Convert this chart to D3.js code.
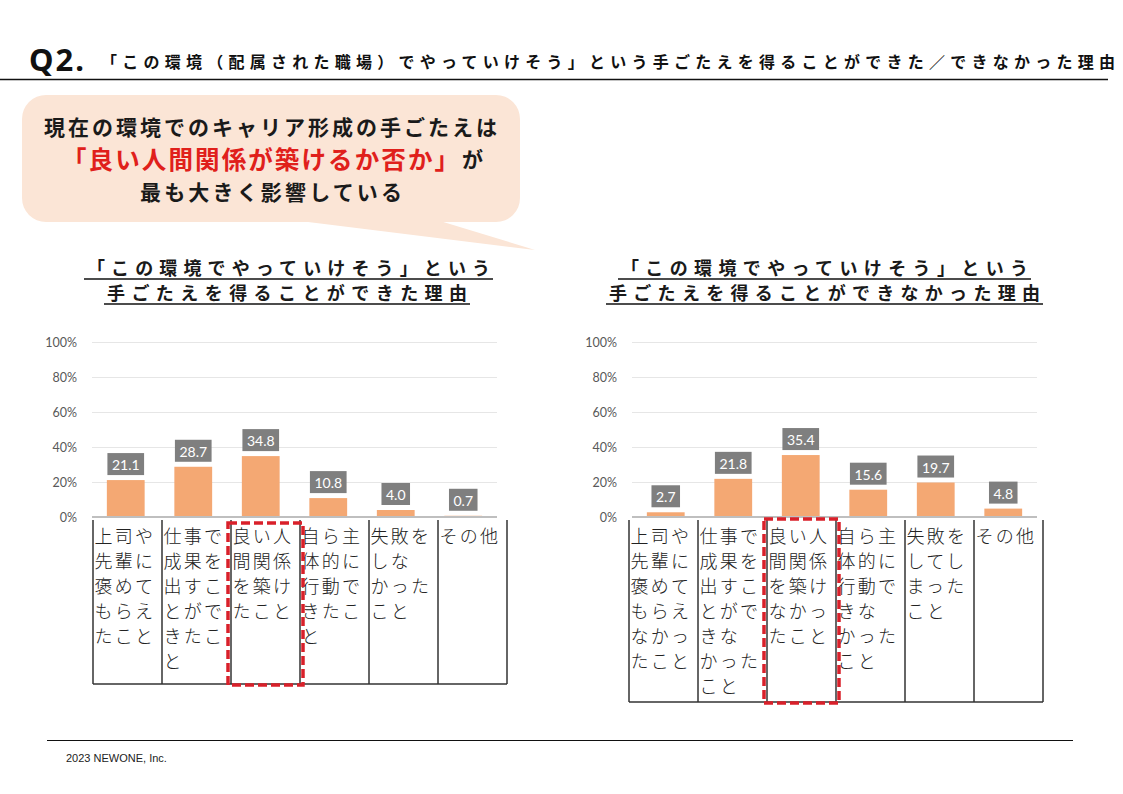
<!DOCTYPE html>
<html><head><meta charset="utf-8">
<script src="https://cdn.jsdelivr.net/npm/d3@7"></script>
<style>
body{margin:0;background:#fff;}
svg{display:block;}
</style></head>
<body>
<svg id="c" width="1123" height="794"></svg>
<script>
// ---- data ----
const mainTitle = "「この環境（配属された職場）でやっていけそう」という手ごたえを得ることができた／できなかった理由";
const calloutLine1 = "現在の環境でのキャリア形成の手ごたえは";
const calloutRed = "「良い人間関係が築けるか否か」";
const calloutRedTail = "が";
const calloutLine3 = "最も大きく影響している";
const leftTitle = ["「この環境でやっていけそう」という", "手ごたえを得ることができた理由"];
const rightTitle = ["「この環境でやっていけそう」という", "手ごたえを得ることができなかった理由"];
// category labels, with the line breaks shown in the reference table
const leftCategories = [
  ["上司や","先輩に","褒めて","もらえ","たこと"],
  ["仕事で","成果を","出すこ","とがで","きたこ","と"],
  ["良い人","間関係","を築け","たこと"],
  ["自ら主","体的に","行動で","きたこ","と"],
  ["失敗を","しな","かった","こと"],
  ["その他"]
];
const leftValues = [21.1, 28.7, 34.8, 10.8, 4.0, 0.7];
const rightCategories = [
  ["上司や","先輩に","褒めて","もらえ","なかっ","たこと"],
  ["仕事で","成果を","出すこ","とがで","きな","かった","こと"],
  ["良い人","間関係","を築け","なかっ","たこと"],
  ["自ら主","体的に","行動で","きな","かった","こと"],
  ["失敗を","してし","まった","こと"],
  ["その他"]
];
const rightValues = [2.7, 21.8, 35.4, 15.6, 19.7, 4.8];
const yTicks = [0, 20, 40, 60, 80, 100];
const highlightIndex = 2;
const footerText = "2023 NEWONE, Inc.";

const svg = d3.select("#c");
const JP = "'Noto Sans CJK JP','Noto Sans',sans-serif";

// ---- header ----
svg.append("text").attr("x", 29).attr("y", 71).attr("font-family", "'Noto Sans','Open Sans',sans-serif")
  .attr("font-weight", 700).attr("font-size", 31).attr("letter-spacing", 2).attr("fill", "#111").text("Q2.");
svg.append("text").attr("x", 101).attr("y", 68).attr("font-family", JP).attr("font-weight", 700)
  .attr("font-size", 16).attr("fill", "#111").attr("textLength", 1014).attr("lengthAdjust", "spacing").text(mainTitle);
svg.append("line").attr("x1", 0).attr("x2", 1108).attr("y1", 79.5).attr("y2", 79.5).attr("stroke", "#111").attr("stroke-width", 1.5);

// ---- callout ----
const co = svg.append("g");
co.append("path").attr("d", "M300,221 L535,250 L440,221 Z").attr("fill", "#fbe5d6");
co.append("rect").attr("x", 22).attr("y", 95).attr("width", 498).attr("height", 127).attr("rx", 24).attr("fill", "#fbe5d6");
co.append("text").attr("x", 44).attr("y", 135).attr("font-family", JP).attr("font-weight", 700).attr("font-size", 21)
  .attr("fill", "#1a1a1a").attr("textLength", 453).attr("lengthAdjust", "spacing").text(calloutLine1);
co.append("text").attr("x", 62).attr("y", 169).attr("font-family", JP).attr("font-weight", 700).attr("font-size", 24.5)
  .attr("fill", "#e0201b").attr("textLength", 397).attr("lengthAdjust", "spacing").text(calloutRed);
co.append("text").attr("x", 462).attr("y", 167).attr("font-family", JP).attr("font-weight", 700).attr("font-size", 21)
  .attr("fill", "#1a1a1a").text(calloutRedTail);
co.append("text").attr("x", 140).attr("y", 200).attr("font-family", JP).attr("font-weight", 700).attr("font-size", 21)
  .attr("fill", "#1a1a1a").attr("textLength", 262).attr("lengthAdjust", "spacing").text(calloutLine3);

// ---- chart builder ----
function drawChart(opt) {
  const g = svg.append("g");
  const keys = opt.categories.map(c => c.join(""));
  // titles
  opt.title.forEach((t, i) => {
    const L = opt.titleLines[i];
    g.append("text").attr("x", L[0]).attr("y", L[2]).attr("font-family", JP).attr("font-weight", 700)
      .attr("font-size", 18).attr("fill", "#1a1a1a").attr("textLength", L[1] - L[0]).attr("lengthAdjust", "spacing").text(t);
    g.append("line").attr("x1", L[0] - 3).attr("x2", L[1] + 3).attr("y1", L[2] + 4).attr("y2", L[2] + 4)
      .attr("stroke", "#111").attr("stroke-width", 1.5);
  });

  const y = d3.scaleLinear().domain([0, 100]).range([517, 342]);
  const x = d3.scaleBand().domain(keys).range(opt.plotX).paddingInner(0).paddingOuter(0);
  const tx = d3.scaleBand().domain(keys).range(opt.tableX).paddingInner(0).paddingOuter(0);

  // gridlines
  g.append("g").selectAll("line").data(yTicks.filter(d => d > 0)).join("line")
    .attr("x1", opt.plotX[0]).attr("x2", opt.plotX[1]).attr("y1", d => y(d) + 0.5).attr("y2", d => y(d) + 0.5)
    .attr("stroke", "#e6e6e6").attr("stroke-width", 1);

  // y axis
  const ax = g.append("g").attr("transform", `translate(${opt.plotX[0] - 8},0)`)
    .call(d3.axisLeft(y).tickValues(yTicks).tickFormat(d => d + "%").tickSize(0));
  ax.select(".domain").remove();
  ax.selectAll("text").attr("font-family", "Lato,'Open Sans',sans-serif").attr("font-size", 12.5).attr("fill", "#595959").attr("dx", -4);

  // bars
  const bw = x.bandwidth() * 0.56;
  g.append("g").selectAll("rect").data(opt.values).join("rect")
    .attr("x", (d, i) => x(keys[i]) + (x.bandwidth() - bw) / 2)
    .attr("y", d => y(d)).attr("width", bw).attr("height", d => y(0) - y(d))
    .attr("fill", "#f4a873");

  // axis line
  g.append("line").attr("x1", opt.plotX[0]).attr("x2", opt.plotX[1]).attr("y1", 517).attr("y2", 517)
    .attr("stroke", "#bfbfbf").attr("stroke-width", 2);

  // data labels
  const lbl = g.append("g").selectAll("g").data(opt.values).join("g");
  lbl.each(function (d, i) {
    const cx = x(keys[i]) + x.bandwidth() / 2;
    const s = d3.select(this);
    const t = s.append("text").attr("x", cx).attr("y", y(d) - 10).attr("text-anchor", "middle")
      .attr("font-family", "Lato,'Open Sans',sans-serif").attr("font-size", 14).attr("fill", "#fff").text(d.toFixed(1));
    const w = t.node().getComputedTextLength() + 9;
    s.insert("rect", "text").attr("x", cx - w / 2).attr("y", y(d) - 27).attr("width", w).attr("height", 22).attr("fill", "#7f7f7f");
  });

  // table
  const top = 520, bottom = opt.tableBottom;
  const tb = g.append("g");
  const edges = keys.map(c => tx(c)).concat([opt.tableX[1]]);
  tb.selectAll("line.v").data(edges).join("line").attr("class", "v")
    .attr("x1", d => d).attr("x2", d => d).attr("y1", top).attr("y2", bottom).attr("stroke", "#333").attr("stroke-width", 1.5);
  tb.append("line").attr("x1", opt.tableX[0]).attr("x2", opt.tableX[1]).attr("y1", bottom).attr("y2", bottom)
    .attr("stroke", "#333").attr("stroke-width", 1.5);
  opt.categories.forEach((lines, ci) => {
    const t = tb.append("text").attr("font-family", JP).attr("font-weight", 300).attr("font-size", 18)
      .attr("letter-spacing", 2.2).attr("fill", "#222");
    lines.forEach((ln, j) => t.append("tspan").attr("x", tx(keys[ci]) + 1.5).attr("y", 543 + j * 25).text(ln));
  });

  // highlight dashed box
  const hc = keys[highlightIndex];
  g.append("rect").attr("x", tx(hc) - 3).attr("y", opt.hlTop).attr("width", tx.bandwidth() + 6).attr("height", bottom - opt.hlTop + 1)
    .attr("fill", "none").attr("stroke", "#d9202a").attr("stroke-width", 3.5).attr("stroke-dasharray", "9,4");
}

drawChart({
  title: leftTitle, titleLines: [[87, 490, 275], [107, 467, 300]],
  categories: leftCategories, values: leftValues,
  plotX: [92, 497], tableX: [93, 507], tableBottom: 684, hlTop: 523
});
drawChart({
  title: rightTitle, titleLines: [[621, 1028, 275], [609, 1040, 300]],
  categories: rightCategories, values: rightValues,
  plotX: [632, 1037], tableX: [629, 1043], tableBottom: 702, hlTop: 519
});

// ---- footer ----
svg.append("line").attr("x1", 47).attr("x2", 1073).attr("y1", 740.5).attr("y2", 740.5).attr("stroke", "#111").attr("stroke-width", 1.2);
svg.append("text").attr("x", 66).attr("y", 762).attr("font-family", "'Liberation Sans Narrow','Liberation Sans',Arial,sans-serif")
  .attr("font-size", 11).attr("fill", "#222").text(footerText);
</script>
</body></html>
